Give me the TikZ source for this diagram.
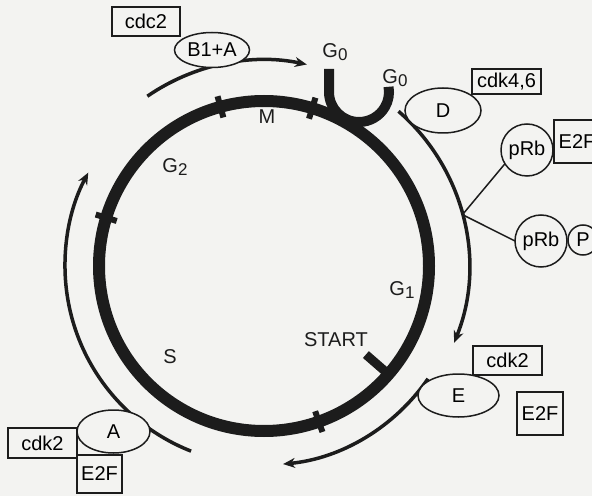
\documentclass[tikz,border=0pt]{standalone}
\usepackage{fontspec}
\setmainfont{Liberation Sans}
\usepackage{tikz}
\usetikzlibrary{shapes.geometric,arrows.meta}
\definecolor{paper}{RGB}{243,243,241}
\definecolor{ink}{RGB}{28,28,28}
\newcommand{\lowidx}[1]{\raisebox{-.35ex}{\fontsize{17}{17}\selectfont#1}}

\begin{document}
\begin{tikzpicture}[x=1pt,y=1pt,font=\fontsize{20}{22}\selectfont,
 bx/.style={draw=ink,line width=1.5pt,fill=paper,inner sep=0pt,outer sep=0pt},
 el/.style={bx,ellipse},
 ci/.style={bx,circle},
 arr/.style={draw=ink,line width=3.5pt,-{Stealth[length=12pt,width=10pt]}},
 tk/.style={draw=ink,line width=6pt},
 lb/.style={inner sep=0pt,text=ink}]
\useasboundingbox (0,0) rectangle (592,496);
\clip (0,0) rectangle (592,496);
\fill[paper] (0,0) rectangle (592,496);
\coordinate (c) at (264,230);
% the cycle
\draw[ink,line width=12pt] (c) circle[radius=165];
\draw[ink,line width=10pt] (329,427) -- (329,404) arc[start angle=180,end angle=370,radius=30];
\foreach \a in {105.3,73,163,-70.6}
 \draw[tk] ([shift={(\a:154)}]c) -- ([shift={(\a:176)}]c);
\draw[ink,line width=9pt] ([shift={(-41:169)}]c) -- ([shift={(-41:135)}]c);
% outer arrows
\coordinate (t1) at ([shift={(124.5:206)}]c);
\coordinate (r1) at ([shift={(49:205)}]c);
\coordinate (j) at ([shift={(14.5:205)}]c);
\coordinate (b1) at ([shift={(-34.5:199)}]c);
\coordinate (l1) at ([shift={(248.5:199)}]c);
\draw[arr] (t1) arc[start angle=124.5,end angle=78,radius=206];
\draw[arr] (r1) arc[start angle=49,end angle=-22,radius=205];
\draw[arr] (b1) arc[start angle=-34.5,end angle=-84.5,radius=199];
\draw[arr] (l1) arc[start angle=248.5,end angle=152,radius=199];
% labels
\node[lb] (m) at (267,379) {M};
\node[lb] (g2) at (175,329) {G\lowidx{2}};
\node[lb] (g1) at (402,206) {G\lowidx{1}};
\node[lb] (s) at (170,139) {S};
\node[lb] (st) at (336,156) {START};
\node[lb] (g0a) at (335,444) {G\lowidx{0}};
\node[lb] (g0b) at (395,418) {G\lowidx{0}};
% complexes
\node[bx,minimum width=68pt,minimum height=29pt] (cdc) at (146,474.5) {cdc2};
\node[el,minimum width=75pt,minimum height=35pt] (ba) at (212,446) {B1+A};
\node[bx,minimum width=69pt,minimum height=25pt] (k46) at (506.5,414.5) {cdk4,6};
\node[el,minimum width=76pt,minimum height=45pt] (d) at (443,385.5) {D};
\node[bx,minimum width=46pt,minimum height=43pt] (e2a) at (577,354.5) {E2F};
\node[ci,minimum size=52pt] (p1) at (527,346) {pRb};
\node[ci,minimum size=52pt] (p2) at (541,255) {pRb};
\node[ci,minimum size=30pt] (ph) at (583,256) {P};
\node[bx,minimum width=69pt,minimum height=29pt] (k2e) at (507.5,135.5) {cdk2};
\node[el,minimum width=81pt,minimum height=43pt] (e) at (458.5,100.5) {E};
\node[bx,minimum width=46pt,minimum height=43pt] (e2b) at (540,82.5) {E2F};
\node[bx,minimum width=69pt,minimum height=30pt] (k2a) at (42.5,53) {cdk2};
\node[bx,minimum width=45pt,minimum height=38pt] (e2c) at (99.5,22) {E2F};
\node[el,minimum width=73pt,minimum height=43pt] (a) at (113.5,64.5) {A};
\draw[ink,line width=1.5pt] (j) -- (p1.212);
\draw[ink,line width=1.5pt] (j) -- (p2.west);
\end{tikzpicture}
\end{document}
